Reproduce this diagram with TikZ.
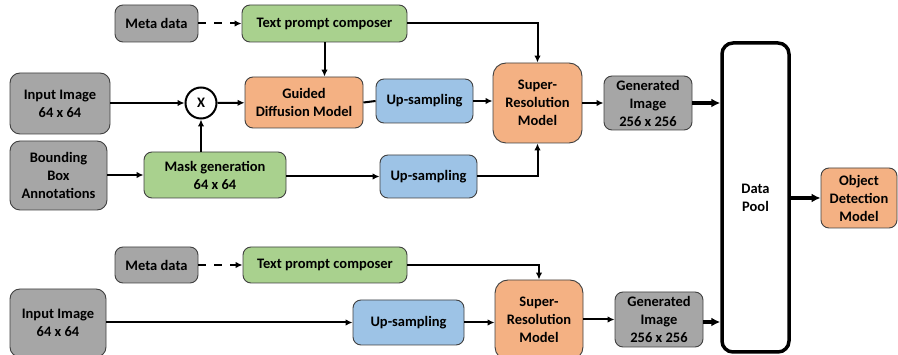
\documentclass[tikz,border=0pt]{standalone}
\usepackage{fontspec}
\setmainfont{Carlito}
\usetikzlibrary{arrows.meta}

\definecolor{boxgray}{HTML}{A6A6A6}
\definecolor{boxgreen}{HTML}{A9D18E}
\definecolor{boxorange}{HTML}{F4B183}
\definecolor{boxblue}{HTML}{9DC3E6}
\definecolor{edgegray}{HTML}{404040}

\begin{document}
\begin{tikzpicture}[x=1pt, y=-1pt, >={Latex[length=7pt,width=6.5pt]}]

\def\thinline{2pt};
\def\fatline{3.5pt};
\tikzset{stage/.style={
    rectangle,
    rounded corners=8pt,
    draw=edgegray,
    line width=0.9pt,
    align=center,
    inner sep=0pt,
    font=\fontsize{14.5}{18}\selectfont\bfseries
  },
  graybox/.style={stage, fill=boxgray},
  greenbox/.style={stage, fill=boxgreen},
  orangebox/.style={stage, fill=boxorange},
  bluebox/.style={stage, fill=boxblue},
  link/.style={line width=\thinline, ->},
  fatlink/.style={line width=\fatline, -{Latex[length=9pt,width=9pt]}}
};

\useasboundingbox (0,0) rectangle (898,355);

% upper branch
\node[graybox, minimum width=83pt, minimum height=37pt] (meta1) at (156.5,23.5) {Meta data};
\node[greenbox, minimum width=165pt, minimum height=37pt] (text1) at (324.5,23.5) {Text prompt composer};
\node[graybox, minimum width=100pt, minimum height=61pt, rounded corners=10pt] (input1) at (60,103.5) {Input Image\\64 x 64};
\node[circle, draw, line width=2pt, fill=white, minimum size=31pt, inner sep=0pt,
      font=\fontsize{14.5}{18}\selectfont\bfseries] (mult) at (201,103) {X};
\node[orangebox, minimum width=118pt, minimum height=51pt] (guided) at (304,102.5) {Guided\\Diffusion Model};
\node[bluebox, minimum width=97pt, minimum height=44pt] (up1) at (424.5,101) {Up-sampling};
\node[orangebox, minimum width=89pt, minimum height=80pt, rounded corners=13pt] (sr1) at (537.5,103) {Super-\\Resolution\\Model};
\node[graybox, minimum width=88pt, minimum height=54pt] (gen1) at (648,103) {Generated\\Image\\256 x 256};
\node[graybox, minimum width=97pt, minimum height=69pt, rounded corners=10pt] (bbox) at (58.5,175.5) {Bounding\\Box\\Annotations};
\node[greenbox, minimum width=142pt, minimum height=46pt] (mask) at (215,175) {Mask generation\\64 x 64};
\node[bluebox, minimum width=97pt, minimum height=43pt] (up2) at (428.5,176.5) {Up-sampling};

% shared pool and detector
\node[stage, draw=black, line width=\fatline, fill=white, rounded corners=11pt,
      minimum width=67pt, minimum height=309pt] (pool) at (755.5,197.5) {Data\\Pool};
\node[orangebox, minimum width=76pt, minimum height=60pt] (det) at (859,198) {Object\\Detection\\Model};

% lower branch
\node[graybox, minimum width=83pt, minimum height=36pt] (meta2) at (156.5,265) {Meta data};
\node[greenbox, minimum width=164pt, minimum height=36pt] (text2) at (325,265) {Text prompt composer};
\node[graybox, minimum width=96pt, minimum height=68pt, rounded corners=10pt] (input2) at (58,323) {Input Image\\64 x 64};
\node[bluebox, minimum width=111pt, minimum height=45pt] (up3) at (408.5,322.5) {Up-sampling};
\node[orangebox, minimum width=88pt, minimum height=80pt, rounded corners=13pt] (sr2) at (539,320) {Super-\\Resolution\\Model};
\node[graybox, minimum width=88pt, minimum height=55pt] (gen2) at (659,319.5) {Generated\\Image\\256 x 256};

% upper connectors
\draw[link, dash pattern=on 8pt off 8pt] (meta1) -- (text1);
\draw[link] (text1.east) -| (sr1.north);
\draw[link] (text1.south) -- (text1.south |- guided.north);
\draw[link] (input1.east |- mult) -- (mult);
\draw[link] (mult) -- (guided);
\draw[line width=\thinline] (guided.east) -- (up1.west);
\draw[link] (up1) -- (up1 -| sr1.west);
\draw[link] (bbox.east |- mask) -- (mask);
\draw[link] (mask.north -| mult) -- (mult.south);
\draw[link] (mask.east |- up2) -- (up2);
\draw[link] (up2.east) -| (sr1.south);
\draw[link] (sr1.east |- gen1) -- (gen1);
\draw[fatlink] (gen1.east) -- (gen1 -| pool.west);

% lower connectors
\draw[link, dash pattern=on 8pt off 8pt] (meta2) -- (text2);
\draw[link] (text2.east) -| (sr2.north);
\draw[link] (input2.east |- up3) -- (up3);
\draw[link] (up3.east) -- (up3 -| sr2.west);
\draw[link] (sr2.east |- gen2) -- (gen2);
\draw[fatlink] (gen2.east |- 0,322) -- (pool.west |- 0,322);

\draw[fatlink] (pool.east |- det) -- (det);
\end{tikzpicture}
\end{document}
